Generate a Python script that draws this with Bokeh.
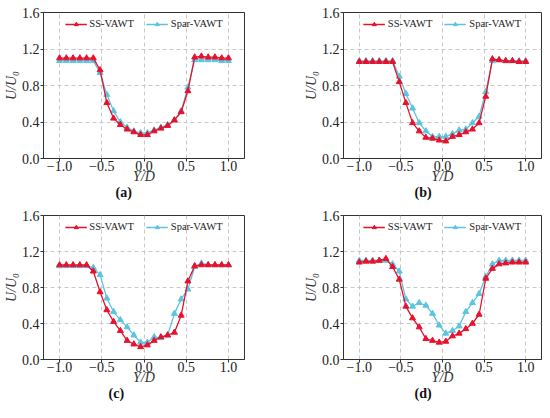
from bokeh.plotting import figure
from bokeh.layouts import column, row
from bokeh.models import (Title, Legend, LegendItem, CustomJSTickFormatter,
                          FixedTicker, Range1d)
from bokeh.embed import file_html
from bokeh.resources import INLINE

# ---- data -------------------------------------------------------------
y_over_d = [-1.00, -0.92, -0.84, -0.76, -0.68, -0.60, -0.52, -0.44, -0.36,
            -0.28, -0.20, -0.12, -0.04, 0.04, 0.12, 0.20, 0.28, 0.36, 0.44,
            0.52, 0.60, 0.68, 0.76, 0.84, 0.92, 1.00]

ss_a = [1.10, 1.10, 1.10, 1.10, 1.10, 1.10, 0.97, 0.61, 0.44, 0.37, 0.32,
        0.29, 0.26, 0.26, 0.30, 0.33, 0.36, 0.42, 0.51, 0.74, 1.11, 1.12,
        1.11, 1.11, 1.10, 1.10]
spar_a = [1.07, 1.07, 1.07, 1.07, 1.07, 1.07, 0.94, 0.70, 0.52, 0.40, 0.34,
          0.30, 0.28, 0.28, 0.31, 0.34, 0.37, 0.42, 0.52, 0.78, 1.08, 1.08,
          1.08, 1.08, 1.07, 1.07]

ss_b = [1.06, 1.06, 1.06, 1.06, 1.06, 1.06, 0.84, 0.61, 0.39, 0.30, 0.23,
        0.22, 0.20, 0.19, 0.24, 0.26, 0.29, 0.32, 0.39, 0.68, 1.09, 1.08,
        1.07, 1.07, 1.06, 1.06]
spar_b = [1.07, 1.07, 1.07, 1.07, 1.07, 1.07, 0.90, 0.71, 0.55, 0.39, 0.30,
          0.24, 0.24, 0.24, 0.27, 0.31, 0.32, 0.39, 0.46, 0.73, 1.07, 1.08,
          1.07, 1.07, 1.07, 1.07]

ss_c = [1.05, 1.05, 1.05, 1.05, 1.05, 0.98, 0.75, 0.55, 0.42, 0.32, 0.21,
        0.17, 0.14, 0.16, 0.21, 0.25, 0.27, 0.30, 0.49, 0.87, 1.04, 1.05,
        1.05, 1.05, 1.05, 1.05]
spar_c = [1.04, 1.04, 1.04, 1.04, 1.04, 1.02, 0.94, 0.68, 0.53, 0.44, 0.36,
          0.27, 0.19, 0.19, 0.25, 0.24, 0.27, 0.51, 0.67, 0.78, 1.03, 1.07,
          1.05, 1.05, 1.05, 1.05]

ss_d = [1.08, 1.09, 1.09, 1.10, 1.12, 1.03, 0.89, 0.59, 0.46, 0.36, 0.23,
        0.21, 0.19, 0.20, 0.26, 0.29, 0.34, 0.40, 0.50, 0.90, 1.01, 1.06,
        1.07, 1.08, 1.08, 1.08]
spar_d = [1.10, 1.10, 1.10, 1.10, 1.10, 1.06, 0.98, 0.67, 0.59, 0.63, 0.60,
          0.51, 0.38, 0.29, 0.32, 0.37, 0.53, 0.63, 0.73, 0.92, 1.06, 1.10,
          1.10, 1.10, 1.10, 1.10]

series_names = ["SS-VAWT", "Spar-VAWT"]
captions = ["(a)", "(b)", "(c)", "(d)"]
x_ticks = [-1.0, -0.5, 0.0, 0.5, 1.0]
y_ticks = [0.0, 0.4, 0.8, 1.2, 1.6]

RED = "#E8112D"
CYAN = "#5CC4DE"
FONT = "Liberation Serif"


def make_panel(ss, spar, caption, width, height, bl, br, bt, bb, cap_off):
    p = figure(width=width, height=height,
               x_range=Range1d(-1.19, 1.19), y_range=Range1d(0, 1.6),
               output_backend="svg", toolbar_location=None,
               min_border_left=bl, min_border_right=br,
               min_border_top=bt, min_border_bottom=bb)
    p.outline_line_color = "#333333"
    p.outline_line_width = 1
    p.background_fill_color = "white"
    p.border_fill_color = "white"

    for g in (p.xgrid[0], p.ygrid[0]):
        g.grid_line_color = "#c8c8c8"
        g.grid_line_dash = "4 3"
        g.grid_line_width = 1

    p.xaxis.ticker = FixedTicker(ticks=x_ticks)
    p.yaxis.ticker = FixedTicker(ticks=y_ticks)
    fmt = "return tick.toFixed(1).replace('-', '\u2212');"
    p.xaxis.formatter = CustomJSTickFormatter(code=fmt)
    p.yaxis.formatter = CustomJSTickFormatter(code=fmt)
    for ax in (p.xaxis[0], p.yaxis[0]):
        ax.major_tick_in = 0
        ax.major_tick_out = 3
        ax.minor_tick_in = 0
        ax.minor_tick_out = 0
        ax.axis_line_color = "#333333"
        ax.major_tick_line_color = "#333333"
        ax.major_label_text_font = FONT
        ax.major_label_text_font_size = "14px"
        ax.major_label_text_color = "#222222"
        ax.axis_label_text_font = FONT
        ax.axis_label_text_font_size = "14px"
        ax.axis_label_text_font_style = "italic"
        ax.axis_label_text_color = "#333333"
    p.xaxis.major_label_standoff = -1
    p.yaxis.major_label_standoff = 1
    p.xaxis.axis_label_standoff = -5
    p.yaxis.axis_label_standoff = 0
    p.xaxis.axis_label = "Y/D"
    p.yaxis.axis_label = "U/U\u2080"

    l2 = p.line(y_over_d, spar, line_color=CYAN, line_width=1.3)
    s2 = p.scatter(y_over_d, spar, marker="triangle", size=6,
                   fill_color=CYAN, line_color=CYAN)
    l1 = p.line(y_over_d, ss, line_color=RED, line_width=1.3)
    s1 = p.scatter(y_over_d, ss, marker="triangle", size=6,
                   fill_color=RED, line_color=RED)

    legend = Legend(items=[LegendItem(label=series_names[0], renderers=[l1, s1]),
                           LegendItem(label=series_names[1], renderers=[l2, s2])],
                    orientation="horizontal", location="top_center")
    legend.border_line_alpha = 0
    legend.background_fill_alpha = 0
    legend.label_text_font = FONT
    legend.label_text_font_size = "10.5px"
    legend.label_text_color = "#222222"
    legend.glyph_width = 22
    legend.glyph_height = 10
    legend.label_height = 10
    legend.spacing = 12
    legend.margin = 3
    legend.padding = 3
    legend.label_standoff = 3
    p.add_layout(legend)

    t = Title(text=caption, align="left", offset=cap_off,
              vertical_align="top",
              text_font=FONT, text_font_size="14px", text_font_style="bold",
              text_color="#111111", standoff=-4)
    p.add_layout(t, "below")
    return p


pa = make_panel(ss_a, spar_a, captions[0], 286, 201, 43, 42, 12, 43, 72)
pb = make_panel(ss_b, spar_b, captions[1], 256, 201, 57, 1, 12, 43, 71)
pc = make_panel(ss_c, spar_c, captions[2], 286, 201, 43, 42, 14, 43, 65)
pd = make_panel(ss_d, spar_d, captions[3], 256, 201, 57, 1, 14, 43, 71)

layout = column(row(pa, pb, spacing=0), row(pc, pd, spacing=0), spacing=0)

open("out.html", "w").write(file_html(layout, INLINE))
